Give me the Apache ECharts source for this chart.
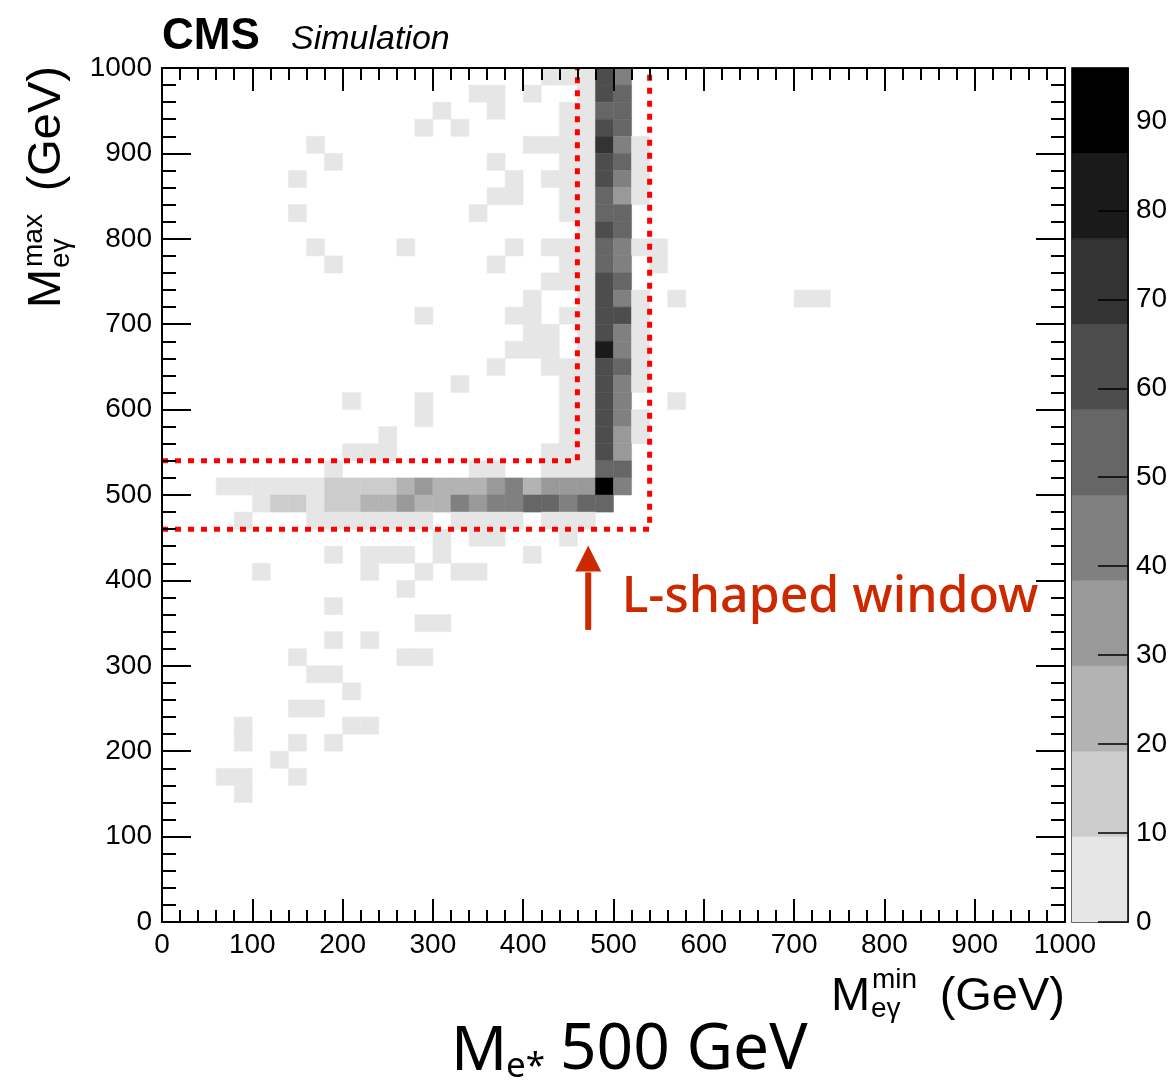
<!DOCTYPE html>
<html>
<head>
<meta charset="utf-8">
<script src="https://cdn.jsdelivr.net/npm/echarts@6/dist/echarts.min.js"></script>
<style>html,body{margin:0;padding:0;background:#fff}#chart{width:1173px;height:1085px}</style>
</head>
<body>
<div id="chart"></div>
<script>
// ---------------- DATA ----------------
const binWidth = 20; // GeV
// lower edge (GeV) of each populated row of M_eγ^max
const rowYLow = [980,960,940,920,900,880,860,840,820,800,780,760,740,720,700,680,660,640,620,600,580,560,540,520,500,480,460,440,420,400,380,360,340,320,300,280,260,240,220,200,180,160,140];
// lower edges (GeV) of populated M_eγ^min bins in each row
const rowXLow = [
  [420,440,460,480,500],
  [340,360,400,460,480,500],
  [300,360,440,460,480,500],
  [280,320,440,460,480,500],
  [160,400,420,440,460,480,500,520],
  [180,360,440,460,480,500,520],
  [140,380,420,440,460,480,500,520],
  [360,380,440,460,480,500,520],
  [140,340,440,460,480,500],
  [460,480,500],
  [160,260,380,420,440,460,480,500,520,540],
  [180,360,440,460,480,500,540],
  [420,440,460,480,500],
  [400,460,480,500,520,560,700,720],
  [280,380,400,440,460,480,500,520],
  [400,420,460,480,500,520],
  [380,400,420,460,480,500,520],
  [360,420,440,460,480,500,520],
  [320,440,460,480,500,520],
  [200,280,440,460,480,500,560],
  [280,440,460,480,500,520],
  [240,440,460,480,500,520],
  [200,220,240,420,440,460,480,500],
  [180,340,360,420,440,460,480,500],
  [60,80,100,120,140,160,180,200,220,240,260,280,300,320,340,360,380,400,420,440,460,480,500],
  [100,120,140,160,180,200,220,240,260,280,300,320,340,360,380,400,420,440,460,480],
  [80,160,180,200,220,240,260,280,320,340,360,380,420,440,460],
  [300,340,360,440],
  [180,220,240,260,300,400],
  [100,220,280,320,340],
  [260],
  [180],
  [280,300],
  [180,220],
  [140,260,280],
  [160,180],
  [200],
  [140,160],
  [80,200,220],
  [80,140,180],
  [120],
  [60,80,140],
  [80]
];
// bin contents matching rowXLow
const rowCount = [
  [3,4,7,62,44],
  [2,2,3,6,60,52],
  [2,3,4,8,54,50],
  [2,2,5,7,63,53],
  [2,3,2,5,8,72,45,4],
  [2,2,4,7,61,55,3],
  [2,2,3,5,8,64,42,3],
  [2,3,4,7,56,33,4],
  [2,3,3,6,52,51],
  [7,60,54],
  [2,2,2,3,4,8,55,46,3,2],
  [2,2,5,7,53,41,2],
  [3,4,6,63,55],
  [2,7,62,44,4,2,2,2],
  [2,3,3,4,8,65,61,3],
  [2,3,7,59,43,5],
  [2,3,3,6,83,40,4],
  [2,3,4,7,64,52,3],
  [2,4,8,61,45,4],
  [2,2,5,7,58,42,2],
  [2,4,8,63,46,3],
  [2,5,9,60,35,4],
  [3,2,3,4,5,8,62,32],
  [3,3,4,5,6,9,53,55],
  [3,4,4,5,5,6,13,15,14,17,24,33,23,26,22,34,44,25,35,32,36,96,43],
  [6,15,16,8,17,18,24,26,35,25,27,45,34,42,46,52,54,43,55,51],
  [3,4,5,5,6,5,7,6,5,6,6,7,5,6,8],
  [2,3,2,3],
  [2,3,2,3,2,2],
  [2,2,3,2,2],
  [2],
  [2],
  [2,3],
  [2,2],
  [2,3,2],
  [2,3],
  [2],
  [2,3],
  [2,2,2],
  [2,2,2],
  [2],
  [2,3,2],
  [2]
];
// colour scale
const zMax = 96;
const paletteColors = ['#e6e6e6','#cccccc','#b3b3b3','#999999','#808080','#666666','#4d4d4d','#333333','#1a1a1a','#000000'];
// L-shaped window outlines (GeV)
const innerWindow = [[0,540],[460,540],[460,1000]];
const outerWindow = [[0,460],[540,460],[540,1000]];
// annotation: arrow x, tail y, tip y, label x, label y (GeV)
const arrowSpec = [472, 342, 441, 509, 380];
const annotationText = 'L-shaped window';

// ---------------- BUILD ----------------
const heatData = [];
rowYLow.forEach((y, r) => {
  rowXLow[r].forEach((x, k) => heatData.push([x, y, rowCount[r][k]]));
});
const nLevels = paletteColors.length;
const levelStep = zMax / nLevels;
function colorFor(z) {
  return paletteColors[Math.min(nLevels - 1, Math.floor(z / levelStep))];
}
const colorbarData = paletteColors.map((c, k) => [0, k * levelStep, (k + 1) * levelStep, k]);

const SANS = '"Liberation Sans", Arial, Helvetica, sans-serif';
const NOTO = '"Noto Sans", "DejaVu Sans", sans-serif';
const arrowColor = '#cc2900';
const plain = v => String(v);

function mainX(position, labels) {
  return {
    type: 'value', gridIndex: 0, position, min: 0, max: 1000, interval: 100, z: 10,
    axisLine: { show: true, onZero: false, lineStyle: { color: '#000', width: 2 } },
    axisTick: { show: true, inside: true, length: 23, lineStyle: { color: '#000', width: 2 } },
    minorTick: { show: true, splitNumber: 5, length: 12, lineStyle: { color: '#000', width: 2 } },
    splitLine: { show: false }, minorSplitLine: { show: false },
    axisLabel: { show: labels, fontFamily: SANS, fontSize: 28, color: '#000', margin: 9, formatter: plain }
  };
}
function mainY(position, labels) {
  return {
    type: 'value', gridIndex: 0, position, min: 0, max: 1000, interval: 100, z: 10,
    axisLine: { show: true, onZero: false, lineStyle: { color: '#000', width: 2 } },
    axisTick: { show: true, inside: true, length: 29, lineStyle: { color: '#000', width: 2 } },
    minorTick: { show: true, splitNumber: 5, length: 14, lineStyle: { color: '#000', width: 2 } },
    splitLine: { show: false }, minorSplitLine: { show: false },
    axisLabel: { show: labels, fontFamily: SANS, fontSize: 28, color: '#000', margin: 10, formatter: plain }
  };
}
function txt(x, y, text, font, align, fill) {
  return { type: 'text', x, y, silent: true,
    style: { text, font, fill: fill || '#000', align, verticalAlign: 'middle', textAlign: align, textVerticalAlign: 'middle' } };
}

const option = {
  animation: false,
  backgroundColor: '#ffffff',
  tooltip: { show: false },
  grid: [
    { left: 162, top: 68, width: 903, height: 854, containLabel: false, outerBoundsMode: 'none' },
    { left: 1072, top: 68, width: 56, height: 854, containLabel: false, outerBoundsMode: 'none',
      show: true, borderColor: '#000', borderWidth: 1.5, backgroundColor: 'transparent' }
  ],
  xAxis: [
    mainX('bottom', true),
    mainX('top', false),
    { type: 'value', gridIndex: 1, min: 0, max: 1, show: false }
  ],
  yAxis: [
    mainY('left', true),
    mainY('right', false),
    { type: 'value', gridIndex: 1, position: 'right', min: 0, max: zMax, interval: 10, z: 10,
      axisLine: { show: true, onZero: false, lineStyle: { color: '#000', width: 1.5 } },
      axisTick: { show: true, inside: true, length: 30, lineStyle: { color: '#000', width: 1.5 } },
      splitLine: { show: false },
      axisLabel: { fontFamily: SANS, fontSize: 28, color: '#000', margin: 8, showMaxLabel: false, formatter: plain } }
  ],
  series: [
    { type: 'custom', name: 'hist', xAxisIndex: 0, yAxisIndex: 0, silent: true, z: 2,
      encode: { x: 0, y: 1 }, data: heatData,
      renderItem(params, api) {
        const x0 = api.value(0), y0 = api.value(1), z = api.value(2);
        const a = api.coord([x0, y0 + binWidth]);
        const b = api.coord([x0 + binWidth, y0]);
        const c = colorFor(z);
        return { type: 'rect', shape: { x: a[0], y: a[1], width: b[0] - a[0], height: b[1] - a[1] },
          style: { fill: c, stroke: c, lineWidth: 0.5 } };
      } },
    { type: 'line', xAxisIndex: 0, yAxisIndex: 0, data: innerWindow, symbol: 'none', silent: true, z: 5,
      lineStyle: { color: '#ff0000', width: 5, type: [6, 7], cap: 'butt' } },
    { type: 'line', xAxisIndex: 0, yAxisIndex: 0, data: outerWindow, symbol: 'none', silent: true, z: 5,
      lineStyle: { color: '#ff0000', width: 5, type: [6, 7], cap: 'butt' } },
    { type: 'custom', xAxisIndex: 0, yAxisIndex: 0, silent: true, z: 6, clip: false,
      data: [arrowSpec],
      renderItem(params, api) {
        const tail = api.coord([api.value(0), api.value(1)]);
        const tip = api.coord([api.value(0), api.value(2)]);
        const lab = api.coord([api.value(3), api.value(4)]);
        const baseY = tip[1] + 26;
        return { type: 'group', children: [
          { type: 'line', shape: { x1: tail[0], y1: tail[1], x2: tip[0], y2: baseY + 1 },
            style: { stroke: arrowColor, lineWidth: 6 } },
          { type: 'polygon', shape: { points: [[tip[0], tip[1]], [tip[0] - 13, baseY], [tip[0] + 13, baseY]] },
            style: { fill: arrowColor } },
          { type: 'text', x: lab[0], y: lab[1],
            style: { text: annotationText, font: '500 50px ' + NOTO, fill: arrowColor,
              align: 'left', verticalAlign: 'middle', textAlign: 'left', textVerticalAlign: 'middle' } }
        ] };
      } },
    { type: 'custom', xAxisIndex: 2, yAxisIndex: 2, silent: true, z: 2,
      encode: { x: 0, y: 1 }, data: colorbarData,
      renderItem(params, api) {
        const a = api.coord([0, api.value(2)]);
        const b = api.coord([1, api.value(1)]);
        return { type: 'rect', shape: { x: a[0], y: a[1], width: b[0] - a[0], height: b[1] - a[1] },
          style: { fill: paletteColors[api.value(3)], stroke: paletteColors[api.value(3)], lineWidth: 0.5 } };
      } }
  ],
  graphic: [
    txt(162, 37, 'CMS', 'bold 44px ' + SANS, 'left'),
    txt(291, 40, 'Simulation', 'italic 34px ' + SANS, 'left'),
    // x-axis title
    txt(831, 997, 'M', '47px ' + SANS, 'left'),
    txt(872, 980, 'min', '28px ' + SANS, 'left'),
    txt(871, 1009, 'eγ', '28px ' + SANS, 'left'),
    txt(1065, 997, '(GeV)', '47px ' + SANS, 'right'),
    // y-axis title (rotated)
    { type: 'group', x: 64, y: 68, rotation: Math.PI / 2, silent: true, children: [
      txt(-240, -16.5, 'M', '47px ' + SANS, 'left'),
      txt(-199, -30, 'max', '28px ' + SANS, 'left'),
      txt(-200, -3, 'eγ', '28px ' + SANS, 'left'),
      txt(2, -16.5, '(GeV)', '47px ' + SANS, 'right')
    ] },
    // bottom caption
    txt(451, 1052, 'M', '62px ' + NOTO, 'left'),
    txt(506, 1067, 'e*', '35px ' + NOTO, 'left'),
    txt(560, 1051, '500 GeV', '64px ' + NOTO, 'left')
  ]
};

const chart = echarts.init(document.getElementById('chart'), null, { renderer: 'canvas' });
chart.setOption(option);
</script>
</body>
</html>
